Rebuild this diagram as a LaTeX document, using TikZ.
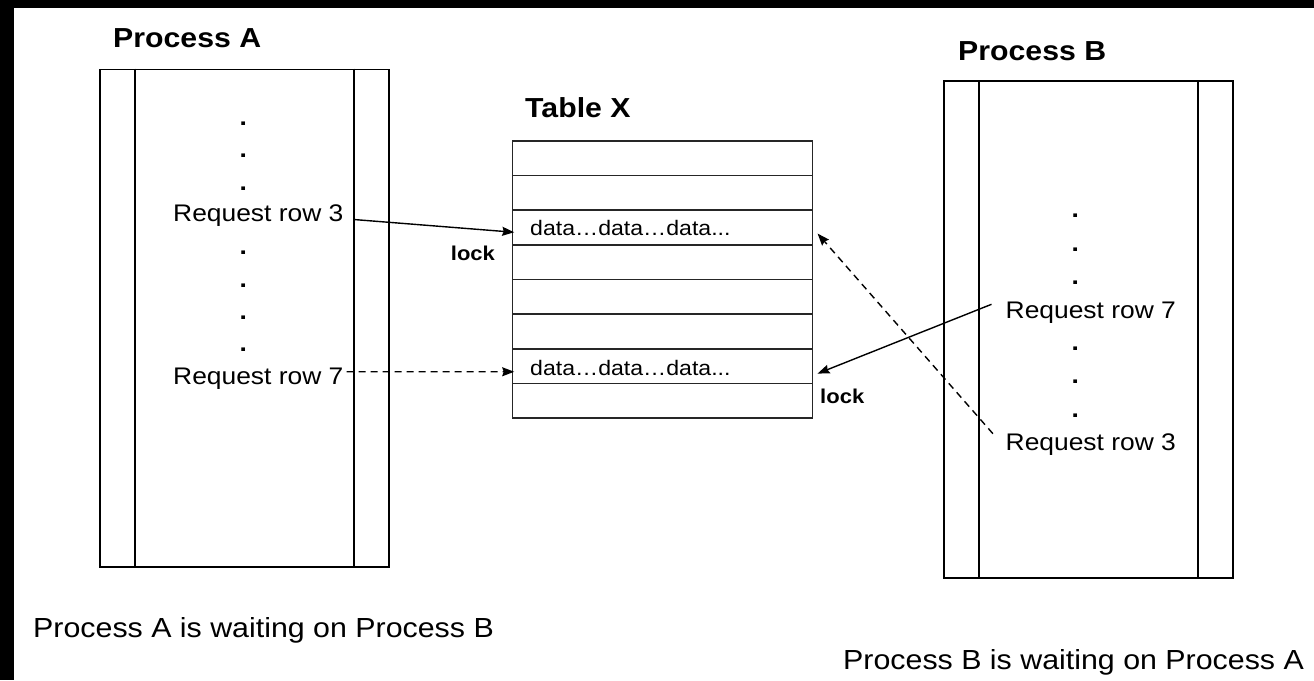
\documentclass[tikz,border=0pt]{standalone}
\usepackage{fontspec}
\setmainfont{Liberation Sans}[FakeStretch=1.1]
\usetikzlibrary{arrows.meta,calc}

\tikzset{
  frame/.style={draw=black, line width=1.8pt},
  rowbox/.style={draw=black!85, line width=1.6pt, minimum width=300.2pt,
                 minimum height=34.625pt, inner sep=0pt, anchor=center},
  title/.style={inner sep=0pt, anchor=base west, font=\fontsize{27.5}{30}\selectfont\bfseries},
  req/.style={inner sep=0pt, anchor=base west, font=\fontsize{24}{28}\selectfont},
  dot/.style={inner sep=0pt, anchor=base, font=\fontsize{24}{28}\selectfont\bfseries},
  datatext/.style={inner sep=0pt, anchor=base west, font=\fontsize{21}{24}\selectfont},
  locktext/.style={inner sep=0pt, anchor=base west, font=\fontsize{20}{24}\selectfont\bfseries},
  caption/.style={inner sep=0pt, anchor=base west, font=\fontsize{27.6}{32}\selectfont},
  conn/.style={line width=1.4pt, -{Stealth[length=12pt, width=9pt, inset=1.5pt]}},
  waitconn/.style={conn, dash pattern=on 7pt off 5pt}
}

\begin{document}
\begin{tikzpicture}[x=1pt, y=-1pt]
  % canvas with dark edge strips on the top and left
  \fill[black] (0,0) rectangle (1314,680);
  \fill[white] (14,8) rectangle (1314,680);
  \useasboundingbox (0,0) rectangle (1314,680);

  % ---------- Process A ----------
  \node[title] (titleA) at (113,47) {Process A};
  \node[frame, minimum width=289pt, minimum height=497.5pt, inner sep=0pt]
       (procA) at (244.5,318.25) {};
  \draw[frame] ($(procA.north west)+(36,0)$) -- ($(procA.south west)+(36,0)$);
  \draw[frame] ($(procA.north east)+(-36,0)$) -- ($(procA.south east)+(-36,0)$);

  \node[dot] (a1) at (243.3,125) {.};
  \node[dot] (a2) at (243.3,157) {.};
  \node[dot] (a3) at (243.3,190) {.};
  \node[req] (reqA3) at (173,221) {Request row 3};
  \node[dot] (a4) at (243.3,254.5) {.};
  \node[dot] (a5) at (243.3,287) {.};
  \node[dot] (a6) at (243.3,319.5) {.};
  \node[dot] (a7) at (243.3,351) {.};
  \node[req] (reqA7) at (173,384) {Request row 7};

  % ---------- Table X ----------
  \node[title] (titleX) at (525,117.3) {Table X};
  \foreach \k in {1,...,8} {
    \node[rowbox] (row\k) at (662.4,{141+34.625*(\k-0.5)}) {};
  }
  \node[datatext] (data3) at (530,235.7) {data…data…data...};
  \node[datatext] (data7) at (530,375) {data…data…data...};

  % ---------- Process B ----------
  \node[title] (titleB) at (958,60) {Process B};
  \node[frame, minimum width=288.7pt, minimum height=497.3pt, inner sep=0pt]
       (procB) at (1088.35,329.65) {};
  \draw[frame] ($(procB.north west)+(36,0)$) -- ($(procB.south west)+(36,0)$);
  \draw[frame] ($(procB.north east)+(-36,0)$) -- ($(procB.south east)+(-36,0)$);

  \node[dot] (b1) at (1075.3,217.5) {.};
  \node[dot] (b2) at (1075.3,251.5) {.};
  \node[dot] (b3) at (1075.3,284) {.};
  \node[req] (reqB7) at (1005.5,318) {Request row 7};
  \node[dot] (b4) at (1075.3,350.5) {.};
  \node[dot] (b5) at (1075.3,383.5) {.};
  \node[dot] (b6) at (1075.3,417) {.};
  \node[req] (reqB3) at (1005.5,450.8) {Request row 3};

  % ---------- lock labels ----------
  \node[locktext] (lockA) at (450.7,260.7) {lock};
  \node[locktext] (lockB) at (820,403.8) {lock};

  % ---------- requests ----------
  \coordinate (fromA3) at ($(reqA3.base east)+(10,-1.5)$);
  \coordinate (fromA7) at ($(reqA7.base east)+(3,-12.3)$);
  \coordinate (fromB7) at ($(reqB7.base west)+(-14,-13.7)$);
  \coordinate (fromB3) at ($(reqB3.base west)+(-12.6,-17.1)$);

  \draw[conn]     (fromA3) -- ($(row3.west)+(2.7,4.7)$);
  \draw[waitconn] (fromA7) -- ($(row7.west)+(2.7,5.7)$);
  \draw[conn]     (fromB7) -- ($(row7.east)+(4.3,7.5)$);
  \draw[waitconn] (fromB3) -- ($(row3.east)+(4.3,6)$);

  % ---------- captions ----------
  \node[caption] (capA) at (33,637) {Process A is waiting on Process B};
  \node[caption] (capB) at (843,669) {Process B is waiting on Process A};
\end{tikzpicture}
\end{document}
